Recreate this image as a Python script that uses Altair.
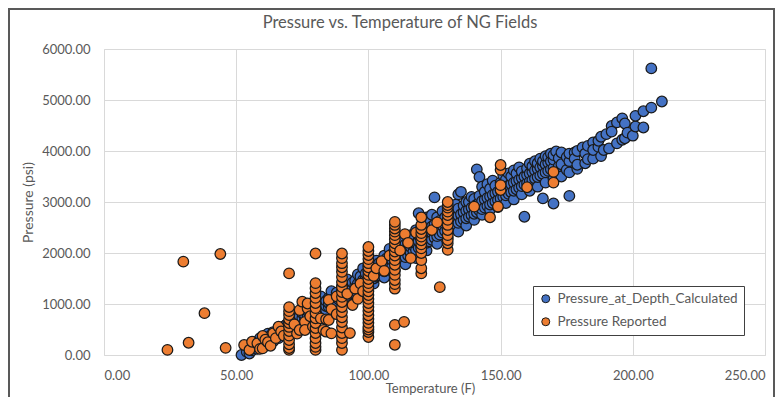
import altair as alt
import pandas as pd

# ---- data (Temperature F, Pressure psi) ----
blue_points = [
    (52, 0), (54, 60), (55, 130), (55, 30), (56, 90), (56, 200), (57, 150), (58, 120), (58, 260),
    (59, 200), (59, 330), (60, 180), (60, 280), (61, 260), (61, 350), (62, 240), (62, 300), (62, 420),
    (63, 300), (63, 380), (64, 330), (64, 270), (64, 450), (65, 360), (65, 420), (66, 330), (66, 400),
    (66, 500), (67, 420), (67, 520), (68, 400), (68, 470), (68, 560), (69, 480), (69, 600), (70, 450),
    (70, 530), (70, 620), (71, 520), (71, 600), (72, 560), (72, 640), (72, 720), (73, 600), (73, 680),
    (74, 580), (74, 660), (74, 760), (75, 650), (75, 720), (75, 820), (76, 700), (76, 780), (77, 680),
    (77, 760), (77, 860), (78, 740), (78, 820), (78, 900), (78, 1000), (79, 780), (79, 880), (80, 760),
    (80, 850), (80, 950), (81, 820), (81, 900), (81, 1000), (82, 860), (82, 950), (82, 1050),
    (82, 1150), (83, 900), (83, 980), (84, 880), (84, 960), (84, 1060), (85, 940), (85, 1020),
    (85, 1120), (86, 980), (86, 1080), (86, 1160), (86, 1250), (87, 1000), (87, 1100), (88, 1040),
    (88, 1120), (88, 1220), (89, 1080), (89, 1170), (90, 1060), (90, 1150), (90, 1250), (90, 1350),
    (91, 1120), (91, 1220), (92, 1160), (92, 1260), (92, 1360), (92, 1480), (93, 1200), (93, 1300),
    (94, 1220), (94, 1320), (94, 1420), (95, 1260), (95, 1360), (95, 1460), (96, 1300), (96, 1400),
    (96, 1580), (97, 1330), (97, 1440), (97, 1540), (98, 1360), (98, 1470), (98, 1700), (99, 1400),
    (99, 1500), (99, 1600), (100, 1420), (100, 1530), (100, 1640), (100, 1750), (101, 1460),
    (101, 1580), (102, 1400), (102, 1500), (102, 1610), (102, 1720), (103, 1540), (103, 1650),
    (103, 1850), (104, 1560), (104, 1680), (104, 1800), (105, 1600), (105, 1720), (105, 1830),
    (106, 1520), (106, 1640), (106, 1760), (106, 1950), (107, 1680), (107, 1800), (107, 1900),
    (108, 1700), (108, 1820), (108, 2080), (109, 1740), (109, 1860), (109, 1980), (110, 1650),
    (110, 1780), (110, 1900), (110, 2020), (110, 2150), (111, 1820), (111, 1940), (112, 1850),
    (112, 1980), (112, 2100), (112, 2250), (113, 1880), (113, 2010), (114, 1780), (114, 1920),
    (114, 2050), (114, 2170), (115, 1950), (115, 2080), (115, 2200), (116, 2000), (116, 2120),
    (116, 2350), (117, 2030), (117, 2150), (117, 2280), (118, 1900), (118, 2060), (118, 2190),
    (118, 2450), (119, 2100), (119, 2230), (119, 2350), (119, 2780), (120, 2130), (120, 2260),
    (120, 2390), (120, 2500), (121, 2170), (121, 2300), (121, 2650), (122, 2050), (122, 2200),
    (122, 2340), (122, 2460), (122, 2700), (123, 2230), (123, 2370), (123, 2600), (124, 2260),
    (124, 2400), (124, 2520), (124, 2750), (125, 2300), (125, 2430), (125, 2560), (125, 3090),
    (126, 2180), (126, 2330), (126, 2470), (126, 2700), (127, 2360), (127, 2500), (127, 2630),
    (128, 2400), (128, 2540), (128, 2820), (129, 2430), (129, 2570), (129, 2700), (130, 2300),
    (130, 2460), (130, 2600), (130, 2740), (130, 2860), (131, 2500), (131, 2640), (131, 2900),
    (132, 2530), (132, 2670), (132, 2800), (133, 2560), (133, 2700), (133, 2950), (134, 2420),
    (134, 2590), (134, 2730), (134, 2870), (134, 3150), (135, 2620), (135, 2760), (135, 3200),
    (136, 2650), (136, 2800), (136, 2930), (137, 2540), (137, 2680), (137, 2830), (137, 3000),
    (138, 2710), (138, 2860), (138, 3000), (139, 2740), (139, 2890), (139, 3100), (140, 2650),
    (140, 2770), (140, 2920), (140, 3060), (141, 2800), (141, 2950), (141, 3640), (142, 2830),
    (142, 2990), (142, 3120), (142, 3490), (143, 2750), (143, 2860), (143, 3020), (143, 3300),
    (144, 2890), (144, 3050), (144, 3200), (145, 2920), (145, 3080), (145, 3350), (146, 2850),
    (146, 2950), (146, 3110), (146, 3260), (147, 2980), (147, 3140), (147, 3420), (148, 3010),
    (148, 3170), (148, 3320), (149, 2900), (149, 3040), (149, 3200), (150, 3070), (150, 3230),
    (150, 3380), (151, 3100), (151, 3260), (151, 3520), (152, 2980), (152, 3130), (152, 3290),
    (152, 3440), (153, 3160), (153, 3320), (153, 3560), (154, 3190), (154, 3350), (154, 3500),
    (155, 3050), (155, 3220), (155, 3380), (155, 3620), (156, 3250), (156, 3410), (156, 3560),
    (157, 3280), (157, 3440), (157, 3680), (158, 3150), (158, 3310), (158, 3470), (158, 3600),
    (159, 2710), (159, 3340), (159, 3500), (160, 3370), (160, 3530), (160, 3660), (161, 3220),
    (161, 3400), (161, 3560), (161, 3750), (162, 3430), (162, 3590), (162, 3700), (163, 3460),
    (163, 3620), (163, 3800), (164, 3300), (164, 3490), (164, 3650), (164, 3760), (165, 3520),
    (165, 3680), (165, 3850), (166, 3070), (166, 3550), (166, 3710), (166, 3800), (167, 3380),
    (167, 3580), (167, 3740), (167, 3900), (168, 3610), (168, 3770), (168, 3880), (169, 3640),
    (169, 3800), (169, 3950), (170, 2970), (170, 3450), (170, 3670), (170, 3830), (170, 3920),
    (171, 3990), (172, 3700), (172, 3860), (173, 3500), (173, 3970), (173, 3740), (175, 3630),
    (175, 3880), (176, 3120), (176, 3580), (176, 3800), (176, 3950), (178, 3970), (178, 3850),
    (179, 3650), (179, 3730), (179, 4000), (181, 4070), (182, 3760), (182, 3950), (183, 3840),
    (183, 4100), (185, 3850), (185, 4170), (185, 4020), (187, 4080), (187, 4200), (188, 3900),
    (188, 4280), (189, 4020), (190, 4330), (191, 4050), (192, 4490), (192, 4380), (194, 4150),
    (194, 4560), (196, 4640), (196, 4220), (197, 4250), (197, 4540), (198, 4360), (200, 4300),
    (201, 4480), (201, 4690), (204, 4780), (204, 4460), (207, 4850), (207, 5620), (211, 4970),
]

orange_points = [
    (24, 100), (30, 1830), (32, 240), (38, 820), (44, 1980), (46, 140),
    (53, 196), (55, 98), (56, 260), (58, 229), (59, 120), (60, 372), (60, 130), (61, 300),
    (62, 250), (63, 180), (64, 425), (65, 330), (66, 555), (67, 460), (68, 380),
    (70, 100), (70, 137), (70, 210), (70, 294), (70, 380), (70, 470), (70, 550), (70, 627),
    (70, 700), (70, 784), (70, 860), (70, 940), (70, 1600),
    (72, 600), (73, 420), (74, 490), (74, 880), (75, 1045), (76, 650), (76, 490), (77, 915),
    (77, 1010), (78, 760), (79, 560),
    (80, 100), (80, 160), (80, 235), (80, 330), (80, 431), (80, 530), (80, 627), (80, 720),
    (80, 824), (80, 920), (80, 1020), (80, 1120), (80, 1215), (80, 1310), (80, 1410), (80, 1990),
    (82, 718), (83, 490), (84, 700), (84, 457), (85, 1080), (85, 686), (86, 425), (86, 900),
    (88, 1150), (88, 800),
    (90, 100), (90, 235), (90, 330), (90, 431), (90, 540), (90, 647), (90, 740), (90, 843),
    (90, 940), (90, 1040), (90, 1140), (90, 1235), (90, 1330), (90, 1430), (90, 1530), (90, 1630),
    (90, 1720), (90, 1800), (90, 1900), (90, 1990),
    (92, 1200), (93, 430), (94, 980), (95, 1300), (96, 1100), (97, 1400), (98, 1250),
    (100, 353), (100, 450), (100, 500), (100, 549), (100, 630), (100, 706), (100, 780), (100, 863),
    (100, 940), (100, 1020), (100, 1100), (100, 1176), (100, 1250), (100, 1333), (100, 1410),
    (100, 1490), (100, 1570), (100, 1647), (100, 1720), (100, 1800), (100, 1880), (100, 1960),
    (100, 2040), (100, 2118),
    (102, 1550), (103, 1700), (105, 1840), (106, 1650), (108, 1950),
    (110, 200), (110, 590), (110, 1300), (110, 1390), (110, 1470), (110, 1570), (110, 1670),
    (110, 1770), (110, 1860), (110, 1950), (110, 2030), (110, 2110), (110, 2190), (110, 2270),
    (110, 2350), (110, 2420), (110, 2480), (110, 2550), (110, 2610),
    (113.5, 650), (113.8, 2370), (112, 2050), (115, 2200), (116, 1900), (118, 2400),
    (120, 1600), (120, 1700), (120, 1860), (120, 2000), (120, 2090), (120, 2170), (120, 2250),
    (120, 2320), (120, 2390), (120, 2470), (120, 2550), (120, 2700),
    (124, 2450), (126, 2600), (127, 1330),
    (130, 2060), (130, 2190), (130, 2255), (130, 2350), (130, 2450), (130, 2550), (130, 2650),
    (130, 2745), (130, 2810), (130, 2890), (130, 2940), (130, 3000),
    (140, 2910), (146, 2700), (149, 2910),
    (150, 3235), (150, 3330), (150, 3630), (150, 3725),
    (160, 3290), (170, 3380), (170, 3590),
]

series_names = ["Pressure_at_Depth_Calculated", "Pressure Reported"]
series_colors = ["#4472C4", "#ED7D31"]
x_ticks = [0, 50, 100, 150, 200, 250]
y_ticks = [0, 1000, 2000, 3000, 4000, 5000, 6000]
chart_title = "Pressure vs. Temperature of NG Fields"

rows = [{"T": t, "P": p, "series": series_names[0]} for t, p in blue_points]
rows += [{"T": t, "P": p, "series": series_names[1]} for t, p in orange_points]
df = pd.DataFrame(rows)

FONT = "Lato"
GREY = "#595959"

points = alt.Chart(df).mark_circle(
    size=112, opacity=1, stroke="#1a1a1a", strokeWidth=1.25
).encode(
    x=alt.X("T:Q",
            scale=alt.Scale(domain=[0, 250], nice=False),
            axis=alt.Axis(values=x_ticks, format=".2f", grid=True, gridColor="#d9d9d9",
                          domain=False, ticks=False, labelPadding=14, labelFontSize=13,
                          labelFont=FONT, labelColor=GREY, title="Temperature (F)",
                          titleFont=FONT, titleFontSize=13, titleColor=GREY,
                          titleFontWeight="normal", titleY=33, titleX=326,
                          titleBaseline="middle")),
    y=alt.Y("P:Q",
            scale=alt.Scale(domain=[0, 6000], nice=False),
            axis=alt.Axis(values=y_ticks, format=".2f", grid=True, gridColor="#d9d9d9",
                          domain=False, ticks=False, labelPadding=14, labelFontSize=13,
                          labelFont=FONT, labelColor=GREY, title="Pressure (psi)",
                          titleFont=FONT, titleFontSize=14, titleColor=GREY,
                          titleFontWeight="normal", titleX=-76, titleY=153,
                          titleAngle=270, titleAlign="center", titleBaseline="middle")),
    color=alt.Color("series:N",
                    scale=alt.Scale(domain=series_names, range=series_colors),
                    legend=alt.Legend(title=None, orient="none", legendX=429, legendY=237,
                                      direction="vertical", fillColor="white",
                                      strokeColor="#404040", padding=6,
                                      symbolType="circle", symbolSize=64,
                                      symbolStrokeColor="#1a1a1a", symbolStrokeWidth=1,
                                      symbolOpacity=1, labelFontSize=13.5, labelFont=FONT,
                                      labelColor=GREY, labelLimit=400, rowPadding=8,
                                      labelOffset=5)),
)

single = pd.DataFrame({"label": [chart_title]})

frame = alt.Chart(single).mark_rect(
    fillOpacity=0, stroke="#595959", strokeWidth=2
).encode(
    x=alt.value(-95), x2=alt.value(670), y=alt.value(-40), y2=alt.value(420)
)

title_text = alt.Chart(single).mark_text(
    font=FONT, fontSize=16.5, color=GREY, align="center", baseline="middle"
).encode(
    text="label:N", x=alt.value(296), y=alt.value(-26)
)

chart = alt.layer(frame, points, title_text).properties(
    width=661, height=306,
    autosize=alt.AutoSizeParams(type="none"),
    padding={"left": 96, "top": 41, "right": 11, "bottom": 42},
).configure_view(stroke="transparent").configure(background="white")

chart.save("out.html", embed_options={"renderer": "svg", "actions": False})
